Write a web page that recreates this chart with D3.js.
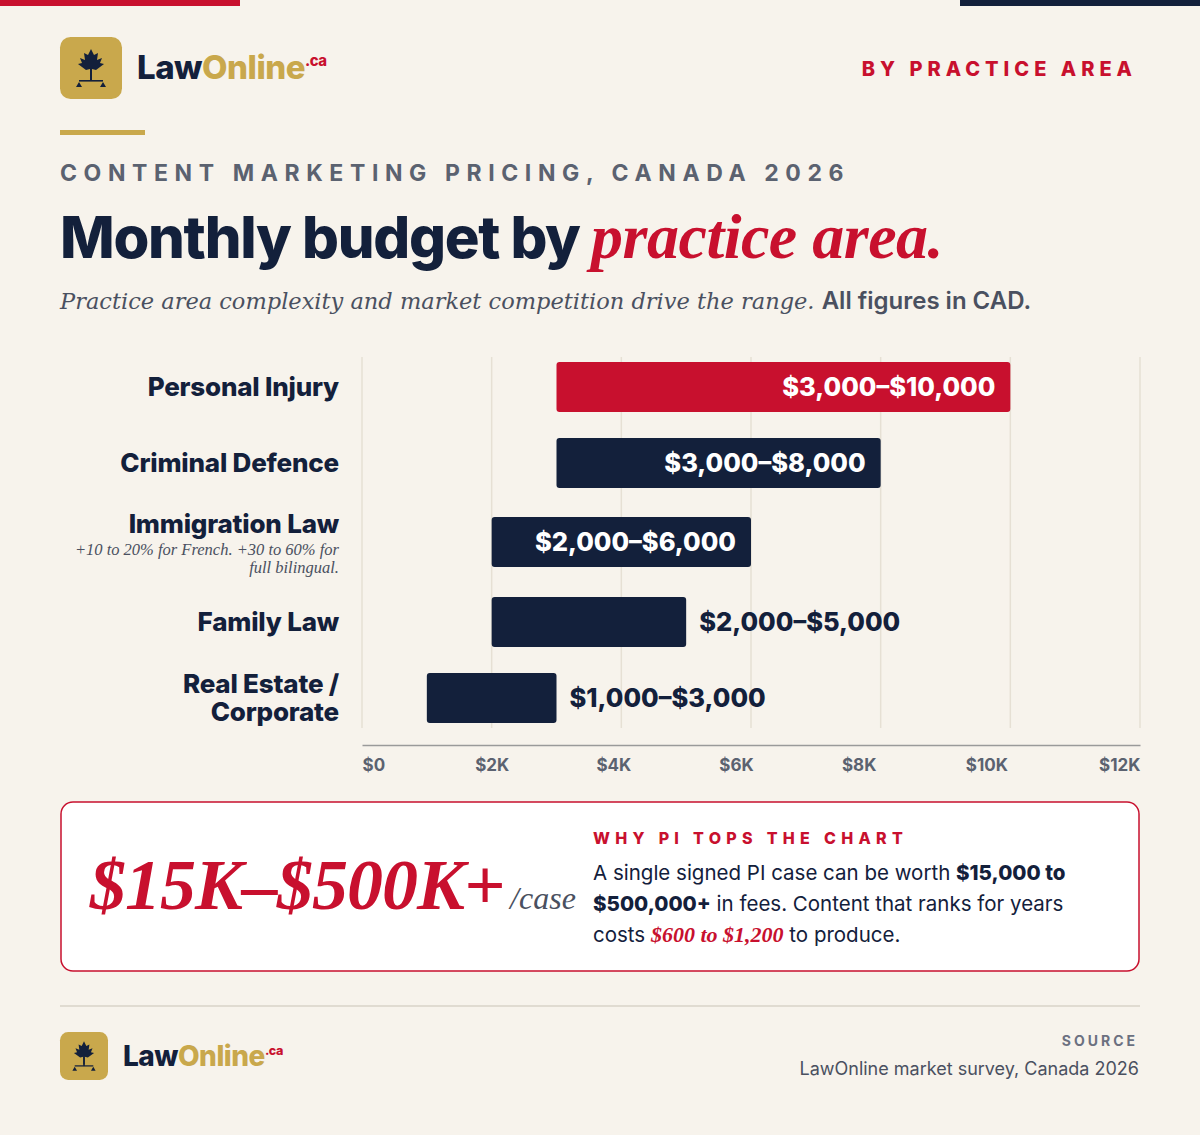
<!DOCTYPE html>
<html><head><meta charset="utf-8">
<script src="https://cdn.jsdelivr.net/npm/d3@7/dist/d3.min.js"></script>
<style>body{margin:0;background:#f7f3ec;}svg{display:block}</style>
</head><body><svg id="c" width="1200" height="1135"></svg>
<script>
const categories=["Personal Injury","Criminal Defence","Immigration Law","Family Law","Real Estate / Corporate"];
const lows=[3000,3000,2000,2000,1000];
const highs=[10000,8000,6000,5000,3000];
const rangeLabels=["$3,000–$10,000","$3,000–$8,000","$2,000–$6,000","$2,000–$5,000","$1,000–$3,000"];
const labelInside=[true,true,true,false,false];
const rowCenters=[387,463,542,622,698];
const tickValues=[0,2000,4000,6000,8000,10000,12000];
const tickLabels=["$0","$2K","$4K","$6K","$8K","$10K","$12K"];

const NAVY="#13203b",RED="#c8102e",GOLD="#c9a84c",BG="#f7f3ec";
const svg=d3.select("#c");
const sans="'Inter','Roboto',sans-serif", serif="'Liberation Serif','DejaVu Serif',serif", serif2="'DejaVu Serif',serif";
svg.append("rect").attr("width",1200).attr("height",1135).attr("fill",BG);
svg.append("rect").attr("x",0).attr("y",0).attr("width",240).attr("height",6).attr("fill",RED);
svg.append("rect").attr("x",960).attr("y",0).attr("width",240).attr("height",6).attr("fill",NAVY);

function logo(x,y,s,fs,tx,ty){
  const g=svg.append("g").attr("transform",`translate(${x},${y})`);
  g.append("rect").attr("width",s).attr("height",s).attr("rx",s*0.17).attr("fill",GOLD);
  const k=s/62;
  const m=g.append("g").attr("transform",`scale(${k})`);
  m.append("path").attr("d","M31 12 L34 18 L38 16 L37 23 L42 21 L40 26 L44 27 L36 33 L32 32 L32 42 L30 42 L30 32 L26 33 L18 27 L22 26 L20 21 L25 23 L24 16 L28 18 Z").attr("fill",NAVY);
  m.append("rect").attr("x",30).attr("y",32).attr("width",2).attr("height",12).attr("fill",NAVY);
  m.append("rect").attr("x",19).attr("y",43).attr("width",24).attr("height",1.6).attr("fill",NAVY);
  m.append("path").attr("d","M19 45 L16 50 L22 50 Z M43 45 L40 50 L46 50 Z").attr("fill",NAVY);
  const t=g.append("text").attr("x",tx).attr("y",ty).attr("font-family",sans).attr("font-weight",800).attr("font-size",fs).attr("letter-spacing",-0.5);
  t.append("tspan").attr("fill",NAVY).text("Law");
  t.append("tspan").attr("fill",GOLD).text("Online");
  t.append("tspan").attr("fill",RED).attr("font-size",fs*0.45).attr("dy",-fs*0.4).text(".ca");
}
logo(60,37,62,33,77,42);
logo(60,1032,48,28,63,34);

svg.append("text").attr("x",1137).attr("y",76).attr("text-anchor","end").attr("font-family",sans).attr("font-weight",800).attr("font-size",20).attr("letter-spacing",5).attr("fill",RED).text("BY PRACTICE AREA");
svg.append("rect").attr("x",60).attr("y",130).attr("width",85).attr("height",5).attr("fill",GOLD);
svg.append("text").attr("x",60).attr("y",181).attr("font-family",sans).attr("font-weight",700).attr("font-size",23).attr("letter-spacing",6.6).attr("fill","#5b6270").text("CONTENT MARKETING PRICING, CANADA 2026");
const tt=svg.append("text").attr("x",60).attr("y",258).attr("font-family",sans).attr("font-weight",800).attr("font-size",58).attr("letter-spacing",-1.3).attr("fill",NAVY);
tt.append("tspan").text("Monthly budget by ");
tt.append("tspan").attr("font-family",serif).attr("font-style","italic").attr("font-weight",700).attr("fill",RED).attr("font-size",64).attr("letter-spacing",-0.5).text("practice area.");
const st=svg.append("text").attr("x",60).attr("y",309).attr("font-size",24).attr("fill","#4a5060");
st.append("tspan").attr("font-family",serif2).attr("font-style","italic").attr("font-size",22.5).text("Practice area complexity and market competition drive the range. ");
st.append("tspan").attr("font-family",sans).attr("font-weight",600).attr("font-size",24).text("All figures in CAD.");

const x=d3.scaleLinear().domain([0,12000]).range([362,1140]);
const g=svg.append("g");
tickValues.forEach(v=>{ g.append("line").attr("x1",x(v)).attr("x2",x(v)).attr("y1",357).attr("y2",728).attr("stroke","#e6e0d4").attr("stroke-width",1.5);});
const ax=d3.axisBottom(x).tickValues(tickValues).tickFormat((d,i)=>tickLabels[i]).tickSize(0).tickPadding(14);
const axg=svg.append("g").attr("transform","translate(0,745)").call(ax);
axg.select(".domain").attr("stroke","#9a9a9a").attr("stroke-width",1.5);
axg.selectAll("text").attr("font-family",sans).attr("font-weight",700).attr("font-size",17).attr("fill","#5b6270");
const labelShift=[0,0,-8,-15,-22,-24,-23];
axg.selectAll(".tick text").attr("text-anchor",(d,i)=>i==0?"start":i==6?"end":"middle").attr("dx",(d,i)=>i==6?0:labelShift[i]);

categories.forEach((c,i)=>{
  const y=rowCenters[i];
  g.append("rect").attr("x",x(lows[i])).attr("y",y-25).attr("width",x(highs[i])-x(lows[i])).attr("height",50).attr("rx",3).attr("fill",i==0?RED:NAVY);
  if(labelInside[i]) g.append("text").attr("x",x(highs[i])-15).attr("y",y+9).attr("text-anchor","end").attr("font-family",sans).attr("font-weight",800).attr("font-size",25.5).attr("fill","#fff").text(rangeLabels[i]);
  else g.append("text").attr("x",x(highs[i])+13).attr("y",y+9).attr("font-family",sans).attr("font-weight",800).attr("font-size",25.5).attr("fill",NAVY).text(rangeLabels[i]);
  const lt=g.append("text").attr("text-anchor","end").attr("font-family",sans).attr("font-weight",800).attr("font-size",26).attr("fill",NAVY).attr("letter-spacing",-0.2);
  if(i==4){lt.append("tspan").attr("x",339).attr("y",y-5).text("Real Estate /");lt.append("tspan").attr("x",339).attr("y",y+23).text("Corporate");}
  else if(i==2){lt.attr("x",339).attr("y",y-9).text(c);
    const n=g.append("text").attr("text-anchor","end").attr("font-family",serif).attr("font-style","italic").attr("font-size",16.5).attr("fill","#4a5060");
    n.append("tspan").attr("x",339).attr("y",y+13).text("+10 to 20% for French. +30 to 60% for");
    n.append("tspan").attr("x",339).attr("y",y+31).text("full bilingual.");}
  else lt.attr("x",339).attr("y",y+9).text(c);
});

svg.append("rect").attr("x",61).attr("y",802).attr("width",1078).attr("height",169).attr("rx",12).attr("fill","#fff").attr("stroke",RED).attr("stroke-width",1.5);
const big=svg.append("text").attr("x",90).attr("y",909).attr("font-family",serif).attr("font-style","italic").attr("font-weight",700).attr("font-size",72).attr("fill",RED).attr("letter-spacing",-1);
big.append("tspan").text("$15K–$500K+");
big.append("tspan").attr("font-weight",400).attr("font-size",32).attr("fill","#4a5060").attr("letter-spacing",0).attr("dx",6).text("/case");
svg.append("text").attr("x",593).attr("y",844).attr("font-family",sans).attr("font-weight",800).attr("font-size",16).attr("letter-spacing",5.3).attr("fill",RED).text("WHY PI TOPS THE CHART");
const lines=[[["A single signed PI case can be worth ",0],["$15,000 to",1]],[["$500,000+",1],[" in fees. Content that ranks for years",0]],[["costs ",0],["$600 to $1,200",2],[" to produce.",0]]];
lines.forEach((l,i)=>{
  const t=svg.append("text").attr("x",593).attr("y",880+i*31).attr("font-family",sans).attr("font-size",20.5).attr("fill",NAVY);
  l.forEach(([s,k])=>{const sp=t.append("tspan").text(s); if(k==1)sp.attr("font-weight",800); if(k==2)sp.attr("font-family",serif).attr("font-style","italic").attr("font-weight",700).attr("font-size",22).attr("fill",RED);});
});
svg.append("line").attr("x1",60).attr("x2",1140).attr("y1",1006).attr("y2",1006).attr("stroke","#d9d3c8").attr("stroke-width",1.5);
svg.append("text").attr("x",1138).attr("y",1046).attr("text-anchor","end").attr("font-family",sans).attr("font-weight",700).attr("font-size",14).attr("letter-spacing",3).attr("fill","#6b7080").text("SOURCE");
svg.append("text").attr("x",1139).attr("y",1075).attr("text-anchor","end").attr("font-family",sans).attr("font-size",18).attr("fill","#4a5060").text("LawOnline market survey, Canada 2026");
</script></body></html>
